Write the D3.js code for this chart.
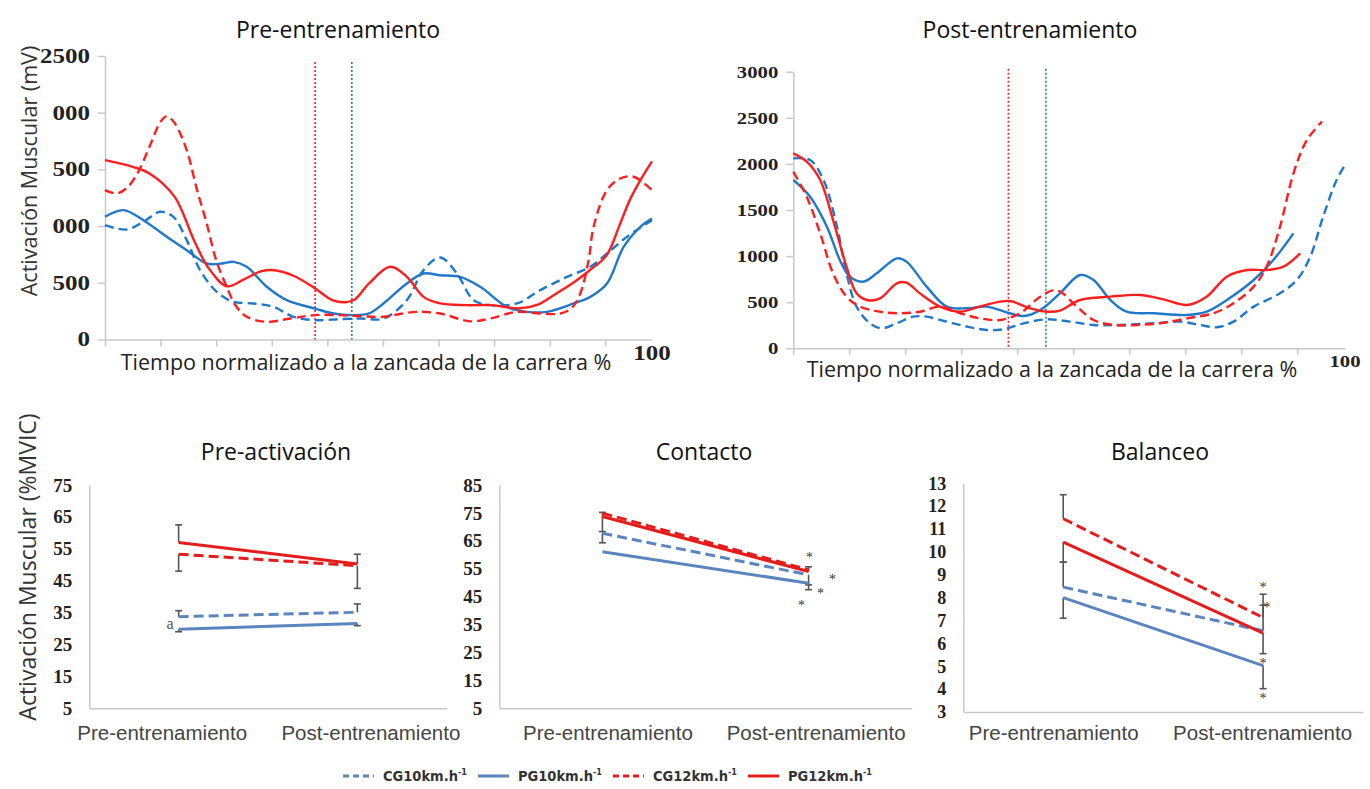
<!DOCTYPE html>
<html><head><meta charset="utf-8">
<script src="https://cdn.jsdelivr.net/npm/d3@7"></script>
<style>
body{margin:0;background:#fff;}
svg{display:block;}
</style></head><body>
<svg id="fig" width="1370" height="789"></svg>
<script>
// ---------- EMG envelopes over the running stride: [% of stride, mV] ----------
const prePG12 = [[0,1582],[5,1523],[8,1464],[12.5,1260],[16,876],[18.5,640],[21.9,470],[25,530],[28,600],[30.5,611],[34,560],[37.8,450],[41,345],[43.5,330],[45,355],[47.5,494],[51.3,641],[54.3,553],[57.3,376],[60.3,318],[65,303],[69.5,303],[74.6,275],[78,310],[81.2,406],[84.5,510],[87.2,611],[90.2,740],[92.5,1000],[94.4,1229],[96.5,1420],[98.4,1570]];
const preCG12 = [[0,1317],[2.1,1288],[4,1340],[6,1480],[8,1700],[10,1920],[11.1,1970],[12.5,1910],[14.7,1670],[16.5,1330],[18.3,1023],[20,700],[21.9,464],[23.5,300],[25.5,200],[29.1,156],[33.3,185],[37.8,215],[42.3,215],[46,205],[50.1,200],[53,225],[56.1,244],[60.3,229],[65.7,160],[69.3,185],[74.1,244],[78.3,229],[81.9,229],[84,280],[85.5,406],[87,700],[87.9,994],[90.3,1317],[92.7,1420],[95.1,1435],[98.4,1317]];
const prePG10 = [[0,1082],[3.3,1141],[6.9,1052],[11.1,906],[14.7,788],[18.3,670],[21,670],[23.1,685],[25.5,641],[29.1,465],[32.7,347],[37.8,273],[41.1,229],[44.7,215],[47.5,230],[50.1,318],[54.3,494],[57.3,582],[60.3,567],[63.9,553],[67.5,465],[72.3,288],[75.9,244],[79.5,244],[84.3,318],[87.3,376],[90.3,494],[93.3,817],[96.3,994],[98.4,1067]];
const preCG10 = [[0,1008],[3.9,970],[6.9,1038],[9.9,1126],[12.3,1082],[14.7,876],[17.1,612],[20.1,420],[23.1,332],[26.7,318],[30.3,288],[33.9,200],[37.8,171],[42.3,180],[45.9,185],[50.1,185],[54.3,347],[57.3,612],[60.3,723],[63.3,582],[66.3,347],[69.3,303],[74.1,318],[78.3,435],[83.1,553],[87.3,641],[90.3,758],[93.9,905],[98.4,1052]];

const postPG12 = [[0,2114],[2.4,2024],[4.8,1825],[7.1,1391],[9.5,885],[11.3,596],[13.1,524],[15.5,542],[18.5,705],[20.2,712],[22.6,596],[26.2,452],[29.8,397],[33.3,452],[36.9,506],[38.7,513],[42.3,434],[45.3,397],[47.6,408],[51.2,524],[56.6,560],[61.9,578],[66.1,531],[70.3,470],[73.8,560],[77.4,777],[81,849],[84.5,849],[87.5,885],[90.5,1030]];
const postPG10 = [[0,1825],[3,1644],[6,1319],[8.3,958],[10.1,777],[12.5,723],[14.9,813],[18.5,976],[20.2,940],[23.8,669],[27.4,452],[31,434],[34.5,452],[38.7,380],[41.1,350],[44.1,416],[47.6,596],[51.2,795],[53.6,741],[56.6,524],[59.5,397],[64.3,380],[70.3,361],[73.8,397],[77.4,524],[82.2,741],[85.7,958],[89.3,1247]];
const postCG12 = [[0,1915],[2.4,1644],[4.8,1247],[7.1,813],[9.5,560],[11.9,452],[15.5,397],[19,380],[22.6,397],[26.2,452],[29.8,380],[33.3,325],[36.9,307],[40.5,380],[44.1,560],[47,632],[50.6,452],[53.6,307],[57.1,253],[61.3,253],[65.5,271],[70.3,325],[75,380],[78.6,488],[82.2,669],[84.5,885],[86.9,1319],[89.3,1897],[91.7,2259],[94.4,2458]];
const postCG10 = [[0,2060],[3,2042],[5.4,1825],[7.8,1319],[9.5,813],[11.3,452],[13.7,271],[15.8,217],[18.5,271],[21.4,343],[23.8,343],[27.4,289],[31,235],[34.5,199],[37.5,206],[41.1,271],[45.2,314],[49.4,289],[53.6,253],[58.3,253],[64.3,271],[69.1,289],[72.6,253],[75.6,228],[78.6,289],[82.2,452],[86.9,596],[89.9,741],[92.3,994],[94.6,1428],[97,1825],[98.5,1988]];

// toe-off (end of contact) markers, % of stride, for the 12 and 10 km/h runs
const preToeOff  = [37.8, 44.4];
const postToeOff = [38.4, 45.1];

const strideTicks = [0,10,20,30,40,50,60,70,80,90];
const preYTicks   = [0,500,1000,1500,2000,2500];
const preYLabels  = ["0","500","000","500","000","2500"];
const postYTicks  = [0,500,1000,1500,2000,2500,3000];
const postYLabels = ["0","500","1000","1500","2000","2500","3000"];

// ---------- Phase means (%MVIC) ----------
const phases = ["Pre-entrenamiento","Post-entrenamiento"];
const preactCG10 = [33.7,35.1], preactPG10 = [29.8,31.6], preactCG12 = [53.3,49.7], preactPG12 = [57.0,50.2];
const contCG10 = [67.7,52.8], contPG10 = [61.1,49.8], contCG12 = [74.9,54.6], contPG12 = [73.7,54.0];
const balCG10 = [8.46,6.55], balPG10 = [8.0,5.03], balCG12 = [11.45,7.13], balPG12 = [10.43,6.45];
// error bars: [phase index, from, to]
const preactErr = [[0,57,62.5],[0,53.3,48],[1,50.2,53.3],[1,49.7,42.6],[0,33.7,35.6],[0,29.8,29.0],[1,35.1,37.7],[1,31.6,30.9]];
const contErr   = [[0,73.7,75.2],[0,73.7,68.3],[0,67.7,64.3],[1,54,55.7],[1,52.8,49.2],[1,49.8,47.5]];
const balErr    = [[0,11.45,12.5],[0,10.43,9.55],[0,8.46,9.55],[0,8.0,7.1],[1,7.13,8.15],[1,6.55,7.67],[1,6.45,5.55],[1,5.03,4.02]];
// significance marks: [phase index, value, horizontal nudge]
const contStars = [[1,60,1],[1,52.2,24],[1,47.1,12],[1,42.6,-7]];
const balStars  = [[1,8.55,0],[1,7.7,4],[1,5.25,0],[1,3.69,0]];
const preactYTicks = [5,15,25,35,45,55,65,75];
const contYTicks   = [5,15,25,35,45,55,65,75,85];
const balYTicks    = [3,4,5,6,7,8,9,10,11,12,13];

const groups = ["CG10","PG10","CG12","PG12"];
const groupLabels = ["CG10km.h","PG10km.h","CG12km.h","PG12km.h"];

const COL = {blue:"#1f78c9", red:"#ff1e1e", bBlue:"#5b85bf", bRed:"#e41c1c", axis:"#c8c8c8", ink:"#3b3b3b"};
const topStyle = {
  CG10:{c:COL.blue, dash:"9,5"}, PG10:{c:COL.blue, dash:null},
  CG12:{c:COL.red,  dash:"9,5"}, PG12:{c:COL.red,  dash:null}
};
const botStyle = {
  CG10:{c:COL.bBlue, dash:"10,5"}, PG10:{c:COL.bBlue, dash:null},
  CG12:{c:COL.bRed,  dash:"10,5"}, PG12:{c:COL.bRed,  dash:null}
};

const svg = d3.select("#fig");
const SANS = "'Open Sans', 'Noto Sans', sans-serif";
const SERIF = "'Liberation Serif', 'Times New Roman', serif";

function styleAxis(a){
  a.select(".domain").attr("stroke", COL.axis).attr("stroke-width", 1.5);
  a.selectAll(".tick line").attr("stroke", COL.axis).attr("stroke-width", 1.5);
}

// ---------- stride envelope panel ----------
function envelopePanel(cfg){
  const g = svg.append("g");
  const x = d3.scaleLinear().domain([0, cfg.xEnd]).range([cfg.left, cfg.right]);
  const y = d3.scaleLinear().domain([0, cfg.yMax]).range([cfg.bottom, cfg.top]);

  const xa = g.append("g").attr("transform", `translate(0,${cfg.bottom})`)
    .call(d3.axisBottom(x).tickValues(strideTicks).tickSize(7).tickSizeOuter(0).tickFormat(""));
  styleAxis(xa);

  const ya = g.append("g").attr("transform", `translate(${cfg.left},0)`)
    .call(d3.axisLeft(y).tickValues(cfg.yTicks).tickSize(7).tickSizeOuter(0).tickPadding(8)
      .tickFormat((d,i) => cfg.yLabels[i]));
  styleAxis(ya);
  ya.selectAll(".tick text")
    .attr("font-family", SERIF).attr("font-weight", "bold").attr("font-size", cfg.tickFont)
    .attr("fill", "#222")
    .attr("x", -15 / cfg.stretch)
    .attr("transform", `scale(${cfg.stretch},1)`);

  // end-of-axis label
  g.append("text").attr("x", x(cfg.xEnd)).attr("y", cfg.bottom + cfg.endDy)
    .attr("text-anchor", "middle").attr("dominant-baseline", "central")
    .attr("font-family", SERIF).attr("font-weight", "bold").attr("font-size", cfg.tickFont)
    .attr("fill", "#222")
    .attr("transform", `translate(${x(cfg.xEnd) * (1 - cfg.stretch)},0) scale(${cfg.stretch},1)`)
    .text("100");

  // toe-off markers
  g.selectAll("line.toe").data(cfg.toeOff).join("line")
    .attr("x1", d => x(d)).attr("x2", d => x(d))
    .attr("y1", cfg.top + cfg.toeTop).attr("y2", cfg.bottom)
    .attr("stroke", (d,i) => i === 0 ? COL.red : COL.blue)
    .attr("stroke-width", 1.6).attr("stroke-dasharray", "2,2");

  const line = d3.line().x(d => x(d[0])).y(d => y(d[1])).curve(d3.curveCatmullRom.alpha(0.5));
  cfg.series.forEach(s => {
    const st = topStyle[s.key];
    g.append("path").datum(s.data).attr("d", line)
      .attr("fill", "none").attr("stroke", st.c).attr("stroke-width", 2.4)
      .attr("stroke-dasharray", st.dash).attr("stroke-linecap", "butt");
  });

  g.append("text").attr("x", cfg.titleX).attr("y", 38).attr("text-anchor", "middle")
    .attr("font-family", SANS).attr("font-size", 23).attr("fill", "#111").text(cfg.title);
  g.append("text").attr("x", cfg.xLabelX).attr("y", cfg.xLabelY).attr("text-anchor", "middle")
    .attr("font-family", SANS).attr("font-size", 21.5).attr("fill", "#222")
    .text("Tiempo normalizado a la zancada de la carrera %");
}

envelopePanel({
  left:105, right:652, top:56, bottom:339.5, xEnd:98.4, yMax:2500,
  yTicks:preYTicks, yLabels:preYLabels, tickFont:20, stretch:1.25, endDy:14,
  toeOff:preToeOff, toeTop:6,
  series:[{key:"CG10",data:preCG10},{key:"PG10",data:prePG10},{key:"CG12",data:preCG12},{key:"PG12",data:prePG12}],
  title:"Pre-entrenamiento", titleX:338, xLabelX:366, xLabelY:370
});
envelopePanel({
  left:793.3, right:1345, top:71.7, bottom:348.3, xEnd:98.5, yMax:3000,
  yTicks:postYTicks, yLabels:postYLabels, tickFont:17, stretch:1.22, endDy:13,
  toeOff:postToeOff, toeTop:-3,
  series:[{key:"CG10",data:postCG10},{key:"PG10",data:postPG10},{key:"CG12",data:postCG12},{key:"PG12",data:postPG12}],
  title:"Post-entrenamiento", titleX:1030, xLabelX:1052, xLabelY:377
});

svg.append("text").attr("transform", "translate(37,171) rotate(-90)").attr("text-anchor", "middle")
  .attr("font-family", SANS).attr("font-size", 21.5).attr("fill", "#333").text("Activación Muscular (mV)");

// ---------- phase comparison panel ----------
function phasePanel(cfg){
  const g = svg.append("g");
  const x = d3.scalePoint().domain(phases).range([cfg.left, cfg.right]).padding(0.5);
  const y = d3.scaleLinear().domain([cfg.yTicks[0], cfg.yTicks[cfg.yTicks.length-1]]).range([cfg.bottom, cfg.top]);

  const xa = g.append("g").attr("transform", `translate(0,${cfg.bottom})`)
    .call(d3.axisBottom(x).tickSize(0).tickSizeOuter(0).tickPadding(cfg.labelPad));
  styleAxis(xa);
  xa.selectAll(".tick text").attr("font-family", "'Liberation Sans', Arial, sans-serif")
    .attr("font-size", 20.5).attr("fill", "#444")
    .attr("dx", (d,i) => cfg.labelShift[i]);

  const ya = g.append("g").attr("transform", `translate(${cfg.left},0)`)
    .call(d3.axisLeft(y).tickValues(cfg.yTicks).tickSize(0).tickSizeOuter(0).tickPadding(17));
  styleAxis(ya);
  ya.selectAll(".tick text").attr("font-family", SERIF).attr("font-weight", "bold")
    .attr("font-size", cfg.tickFont).attr("fill", "#222");

  // error bars
  g.selectAll("line.err").data(cfg.err).join("line")
    .attr("x1", d => x(phases[d[0]])).attr("x2", d => x(phases[d[0]]))
    .attr("y1", d => y(d[1])).attr("y2", d => y(d[2]))
    .attr("stroke", "#555").attr("stroke-width", 1.6);
  g.selectAll("line.cap").data(cfg.err).join("line")
    .attr("x1", d => x(phases[d[0]]) - 3.5).attr("x2", d => x(phases[d[0]]) + 3.5)
    .attr("y1", d => y(d[2])).attr("y2", d => y(d[2]))
    .attr("stroke", "#555").attr("stroke-width", 1.6);

  const line = d3.line().x((d,i) => x(phases[i])).y(d => y(d));
  cfg.series.forEach(s => {
    const st = botStyle[s.key];
    g.append("path").datum(s.data).attr("d", line)
      .attr("fill", "none").attr("stroke", st.c).attr("stroke-width", 3)
      .attr("stroke-dasharray", st.dash);
  });

  (cfg.stars || []).forEach(s => {
    g.append("text").attr("x", x(phases[s[0]]) + s[2]).attr("y", y(s[1]) + 7)
      .attr("text-anchor", "middle").attr("font-family", SERIF).attr("font-size", 14)
      .attr("fill", "#333").text("*");
  });

  g.append("text").attr("x", cfg.titleX).attr("y", 460).attr("text-anchor", "middle")
    .attr("font-family", SANS).attr("font-size", 23).attr("fill", "#111").text(cfg.title);
  return {g, x, y};
}

const p1 = phasePanel({
  left:89.3, right:446.7, top:485, bottom:708.3, yTicks:preactYTicks, tickFont:19, labelPad:17,
  labelShift:[-17, 13],
  err:preactErr, title:"Pre-activación", titleX:276,
  series:[{key:"CG12",data:preactCG12},{key:"PG12",data:preactPG12},{key:"CG10",data:preactCG10},{key:"PG10",data:preactPG10}]
});
p1.g.append("text").attr("x", p1.x(phases[0]) - 5).attr("y", p1.y(31.7)).attr("dy", "0.35em")
  .attr("text-anchor", "end").attr("font-family", SERIF).attr("font-size", 16).attr("fill", "#555").text("a");

phasePanel({
  left:499.3, right:911.7, top:485, bottom:708.3, yTicks:contYTicks, tickFont:19, labelPad:17,
  labelShift:[5, 7],
  err:contErr, stars:contStars, title:"Contacto", titleX:704,
  series:[{key:"PG10",data:contPG10},{key:"CG10",data:contCG10},{key:"PG12",data:contPG12},{key:"CG12",data:contCG12}]
});
phasePanel({
  left:963.3, right:1363, top:483.3, bottom:712, yTicks:balYTicks, tickFont:18, labelPad:13,
  labelShift:[-10, -1],
  err:balErr, stars:balStars, title:"Balanceo", titleX:1160,
  series:[{key:"CG10",data:balCG10},{key:"PG10",data:balPG10},{key:"CG12",data:balCG12},{key:"PG12",data:balPG12}]
});

svg.append("text").attr("transform", "translate(36,567) rotate(-90)").attr("text-anchor", "middle")
  .attr("font-family", SANS).attr("font-size", 23).attr("fill", "#333").text("Activación Muscular (%MVIC)");

// ---------- legend ----------
const legend = svg.append("g").attr("transform", "translate(343,776)");
groups.forEach((k, i) => {
  const st = botStyle[k];
  const gi = legend.append("g").attr("transform", `translate(${i * 135},0)`);
  gi.append("line").attr("x1", 0).attr("x2", 31).attr("y1", 0).attr("y2", 0)
    .attr("stroke", st.c).attr("stroke-width", 3).attr("stroke-dasharray", st.dash ? "6,4" : null);
  const t = gi.append("text").attr("x", 40).attr("y", 0).attr("dy", "0.35em")
    .attr("font-family", "'DejaVu Sans Condensed', 'Liberation Sans Narrow', sans-serif")
    .attr("font-weight", "bold").attr("font-size", 14.5).attr("fill", "#333");
  t.append("tspan").text(groupLabels[i]);
  t.append("tspan").attr("font-size", 9).attr("dy", "-0.7em").text("-1");
});
</script>
</body></html>
